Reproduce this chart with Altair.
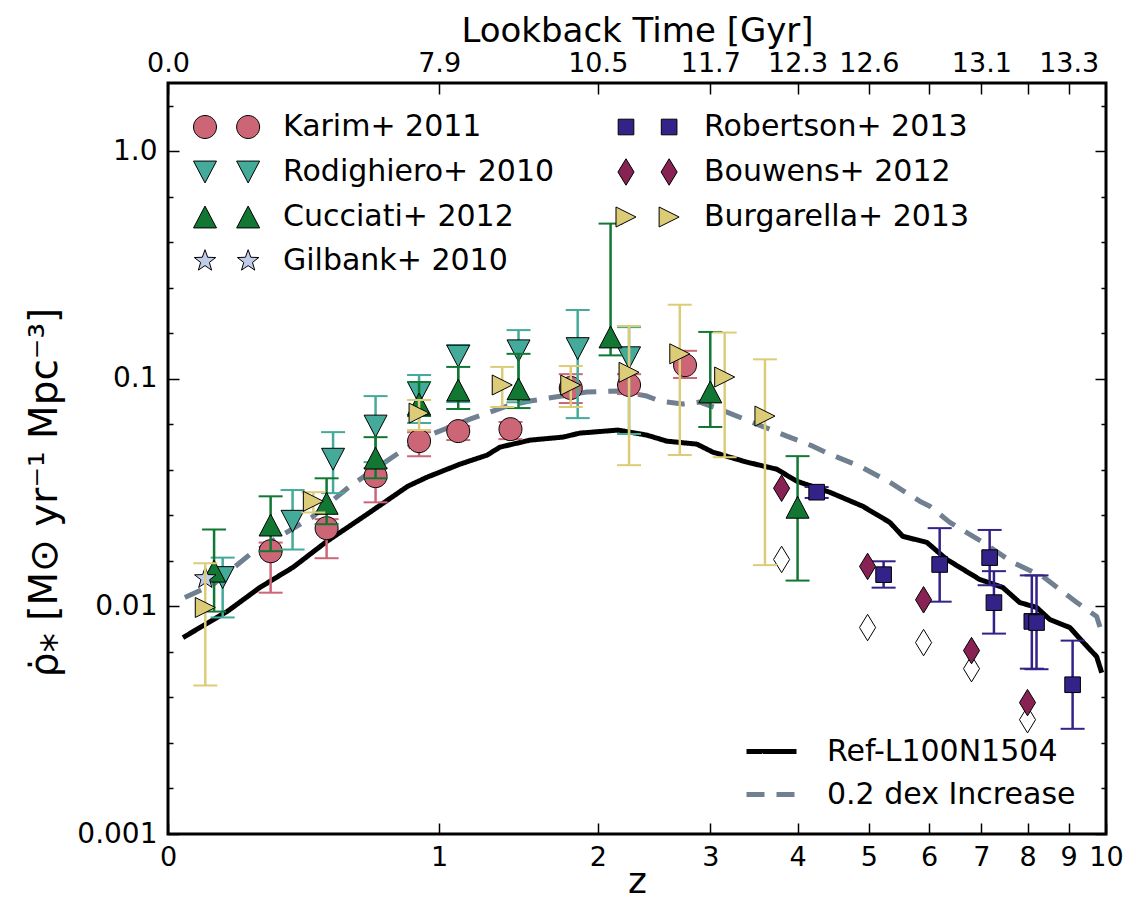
import math
import pandas as pd
import altair as alt

# ---------------- values ----------------
karim_z  = [0.3, 0.5, 0.7, 0.9, 1.1, 1.4, 1.8, 2.25, 2.75]
karim_v  = [0.0175, 0.0221, 0.0374, 0.0533, 0.0590, 0.0602, 0.0913, 0.0941, 0.115]
karim_hi = [0.0191, 0.0242, 0.0406, 0.0584, 0.0621, 0.0647, 0.105, 0.105, 0.133]
karim_lo = [0.0115, 0.0163, 0.0287, 0.0458, 0.0539, 0.0544, 0.0784, 0.0859, 0.101]

rodi_z  = [0.15, 0.375, 0.525, 0.7, 0.9, 1.1, 1.45, 1.85, 2.25]
rodi_v  = [0.0134, 0.0237, 0.0444, 0.0621, 0.0868, 0.126, 0.133, 0.136, 0.124]
rodi_hi = [0.0164, 0.0325, 0.0584, 0.0841, 0.104, 0.141, 0.164, 0.201, 0.169]
rodi_lo = [0.00895, 0.0178, 0.0315, 0.0431, 0.064, 0.0792, 0.079, 0.0673, 0.0573]

cucc_z  = [0.125, 0.3, 0.5, 0.7, 0.9, 1.1, 1.45, 2.1, 3.0, 4.0]
cucc_v  = [0.0143, 0.0228, 0.0284, 0.0449, 0.0776, 0.0894, 0.0904, 0.153, 0.0877, 0.0273]
cucc_hi = [0.0218, 0.0305, 0.0366, 0.0555, 0.097, 0.113, 0.129, 0.482, 0.161, 0.0458]
cucc_lo = [0.0095, 0.0175, 0.0230, 0.0366, 0.0687, 0.0738, 0.0745, 0.127, 0.0615, 0.0130]

gil_z = [0.1]
gil_v = [0.0133]

rob_z  = [4.25, 5.23, 6.19, 7.17, 7.26, 8.10, 8.21, 9.10]
rob_v  = [0.0318, 0.0138, 0.0153, 0.0164, 0.0104, 0.0086, 0.0085, 0.00453]
rob_hi = [0.0335, 0.0158, 0.0221, 0.0217, 0.0143, 0.0137, 0.0137, 0.00708]
rob_lo = [0.0300, 0.0121, 0.0105, 0.0124, 0.0076, 0.00533, 0.0053, 0.0029]

bouw_z      = [3.8, 4.98, 5.9, 6.8, 8.0]
bouw_v      = [0.0331, 0.0150, 0.0107, 0.0064, 0.00378]
bouw_open_v = [0.0161, 0.00808, 0.00694, 0.00533, 0.00318]

burg_z  = [0.1, 0.45, 0.9, 1.35, 1.8, 2.25, 2.7, 3.15, 3.6]
burg_v  = [0.0099, 0.0290, 0.0708, 0.0941, 0.0940, 0.107, 0.129, 0.102, 0.0687]
burg_hi = [0.0155, 0.0318, 0.0808, 0.113, 0.114, 0.171, 0.212, 0.160, 0.122]
burg_lo = [0.00449, 0.0259, 0.0596, 0.0753, 0.0753, 0.0418, 0.0463, 0.0453, 0.0152]

ref_z = [0.039, 0.163, 0.265, 0.376, 0.501, 0.663, 0.846, 0.939, 1.109, 1.26, 1.336,
         1.522, 1.744, 1.866, 2.159, 2.401, 2.579, 2.865, 3.026, 3.391, 3.742, 3.99,
         4.429, 4.906, 5.329, 5.543, 5.958, 6.32, 6.964, 7.448, 7.823, 8.215, 8.526,
         9.03, 9.36, 9.74, 9.88]
ref_v = [0.00730, 0.00950, 0.01213, 0.01485, 0.01933, 0.02542, 0.03378, 0.03701,
         0.04222, 0.04625, 0.05016, 0.05385, 0.05552, 0.05783, 0.05962, 0.05667,
         0.05331, 0.05172, 0.04770, 0.04310, 0.04013, 0.03553, 0.03178, 0.02758,
         0.02344, 0.02034, 0.01914, 0.01611, 0.01315, 0.01213, 0.01041, 0.00990,
         0.00877, 0.00808, 0.00701, 0.00602, 0.00512]

dex_z = [0.044, 0.122, 0.233, 0.342, 0.445, 0.592, 0.809, 0.939, 1.164, 1.378, 1.522,
         1.917, 2.176, 2.401, 2.517, 2.729, 2.895, 3.173, 3.505, 3.864, 4.199, 4.429,
         4.862, 5.329, 5.833, 6.011, 6.378, 7.03, 7.665, 8.357, 9.21, 9.74, 9.88]
dex_v = [0.01095, 0.01250, 0.01694, 0.02075, 0.02467, 0.03378, 0.04770, 0.05609,
         0.06663, 0.07606, 0.08000, 0.08764, 0.08855, 0.08415, 0.0800, 0.07759,
         0.07918, 0.07155, 0.06337, 0.05609, 0.05068, 0.04672, 0.04137, 0.03517,
         0.02902, 0.02758, 0.02344, 0.01914, 0.01562, 0.01356, 0.01041, 0.00903,
         0.00768]

models = ["Ref-L100N1504", "0.2 dex Increase"]

# axis ticks / labels
bottom_ticks = [0, 1, 2, 3, 4, 5, 6, 7, 8, 9, 10]
top_ticks = [0, 1, 2, 3, 4, 5, 6, 7, 8, 9]
top_labels = ["0.0", "7.9", "10.5", "11.7", "12.3", "12.6", "", "13.1", "", "13.3"]
y_major = [0.001, 0.01, 0.1, 1.0]
y_major_labels = ["0.001", "0.01", "0.1", "1.0"]
y_minor_steps = [0.2, 0.4, 0.6, 0.8]

# ---------------- styles ----------------
FONT = "DejaVu Sans"
MSIZE = 529          # unit of marker paths = sqrt(MSIZE)/2 px
PAIR_DX = 3.75       # spacing of the two legend markers (units)


def poly_path(pts, dx=0.0):
    return "M" + " L".join(f"{x + dx:.3f},{y:.3f}" for x, y in pts) + " Z"


def circle_path(dx=0.0):
    return (f"M{-1 + dx:.3f},0 A1,1 0 1,0 {1 + dx:.3f},0 "
            f"A1,1 0 1,0 {-1 + dx:.3f},0 Z")


def star_pts(ro=0.98, ri=0.4):
    pts = []
    for k in range(10):
        r = ro if k % 2 == 0 else ri
        a = math.radians(-90 + 36 * k)
        pts.append((r * math.cos(a), r * math.sin(a)))
    return pts


SHAPES = {
    "circle": lambda dx: circle_path(dx),
    "tri_down": lambda dx: poly_path([(-1, -0.95), (1, -0.95), (0, 0.95)], dx),
    "tri_up": lambda dx: poly_path([(0, -0.95), (1, 0.95), (-1, 0.95)], dx),
    "star": lambda dx: poly_path(star_pts(), dx),
    "square": lambda dx: poly_path([(-0.68, -0.68), (0.68, -0.68), (0.68, 0.68), (-0.68, 0.68)], dx),
    "thin_diamond": lambda dx: poly_path([(0, -1.15), (0.7, 0), (0, 1.15), (-0.7, 0)], dx),
    "tri_right": lambda dx: poly_path([(-0.87, -0.87), (0.87, 0), (-0.87, 0.87)], dx),
}


def pair(shape):
    return SHAPES[shape](0.0) + " " + SHAPES[shape](PAIR_DX)


def frame(name, z, v, lo=None, hi=None):
    d = {"source": name, "zp1": [1 + a for a in z], "v": v}
    if lo is not None:
        d["lo"] = lo
        d["hi"] = hi
    return pd.DataFrame(d)


series = [
    dict(name="Karim+ 2011", df=frame("Karim+ 2011", karim_z, karim_v, karim_lo, karim_hi),
         shape="circle", fill="#CC6677"),
    dict(name="Rodighiero+ 2010", df=frame("Rodighiero+ 2010", rodi_z, rodi_v, rodi_lo, rodi_hi),
         shape="tri_down", fill="#44AA99"),
    dict(name="Cucciati+ 2012", df=frame("Cucciati+ 2012", cucc_z, cucc_v, cucc_lo, cucc_hi),
         shape="tri_up", fill="#117733"),
    dict(name="Gilbank+ 2010", df=frame("Gilbank+ 2010", gil_z, gil_v),
         shape="star", fill="#BFCDEB"),
    dict(name="Robertson+ 2013", df=frame("Robertson+ 2013", rob_z, rob_v, rob_lo, rob_hi),
         shape="square", fill="#332288"),
    dict(name="Bouwens+ 2012 (uncorrected)", df=frame("Bouwens+ 2012", bouw_z, bouw_open_v),
         shape="thin_diamond", fill="white"),
    dict(name="Bouwens+ 2012", df=frame("Bouwens+ 2012", bouw_z, bouw_v),
         shape="thin_diamond", fill="#882255"),
    dict(name="Burgarella+ 2013", df=frame("Burgarella+ 2013", burg_z, burg_v, burg_lo, burg_hi),
         shape="tri_right", fill="#DDCC77"),
]

# legend order (Vega fills the two columns top to bottom)
legend_order = ["Karim+ 2011", "Rodighiero+ 2010", "Cucciati+ 2012", "Gilbank+ 2010",
                "Robertson+ 2013", "Bouwens+ 2012", "Burgarella+ 2013"]
by_name = {s["name"]: s for s in series}
legend_fills = [by_name[n]["fill"] for n in legend_order]
legend_paths = [pair(by_name[n]["shape"]) for n in legend_order]

# ---------------- scales & axes ----------------
xscale = alt.Scale(type="log", domain=[1, 11], nice=False)
yscale = alt.Scale(type="log", domain=[0.001, 2.0], nice=False)

y_ticks = []
for m in y_major:
    y_ticks.append(m)
    if m < 1.0:
        for s in y_minor_steps:
            y_ticks.append(round(m * 10 ** s, 8))
y_ticks.append(round(10 ** 0.2, 8))

major_test = "abs(log(datum.value)/LN10 - round(log(datum.value)/LN10)) < 0.01"
y_tick_size = {"condition": {"test": major_test, "value": -11}, "value": -5}
y_label_expr = " : ".join(
    f"abs(datum.value - {v}) < {v * 1e-6} ? '{lab}'" for v, lab in zip(y_major, y_major_labels)
) + " : ''"
top_label_expr = " : ".join(
    f"datum.value == {1 + z} ? '{lab}'" for z, lab in zip(top_ticks, top_labels)
) + " : ''"

common_axis = dict(domain=False, grid=False, labelOverlap=False, labelFlush=False,
                   labelBound=False)

bottom_axis = alt.Axis(orient="bottom", values=[1 + z for z in bottom_ticks],
                       labelExpr="format(datum.value - 1, 'd')",
                       tickSize={"expr": "-11"}, labelPadding=21,
                       title="z", titlePadding=-6, titleFontSize=36, **common_axis)
top_axis = alt.Axis(orient="top", values=[1 + z for z in top_ticks],
                    labelExpr=top_label_expr, tickSize={"expr": "-11"}, labelPadding=17,
                    title="Lookback Time [Gyr]", titlePadding=1, titleFontSize=34,
                    **common_axis)
left_axis = alt.Axis(orient="left", values=y_ticks, labelExpr=y_label_expr,
                     tickSize=y_tick_size, labelPadding=22, labelFontSize=28,
                     title="ρ̇⁎  [M⊙ yr⁻¹   Mpc⁻³]", titlePadding=12, titleFontSize=39,
                     titleY=409, **common_axis)
right_axis = alt.Axis(orient="right", values=y_ticks, labels=False,
                      tickSize=y_tick_size, title=None, **common_axis)

# ---------------- layers ----------------
layers = []

lines_df = pd.concat([
    pd.DataFrame({"zp1": [1 + z for z in ref_z], "v": ref_v, "model": models[0]}),
    pd.DataFrame({"zp1": [1 + z for z in dex_z], "v": dex_v, "model": models[1]}),
])
line_legend = alt.Legend(orient="none", legendX=576, legendY=641, title=None,
                         symbolSize=2500, symbolStrokeWidth=5, symbolType="stroke",
                         labelFontSize=30, labelFont=FONT, labelOffset=28, labelLimit=500,
                         rowPadding=-9, padding=0)
layers.append(
    alt.Chart(lines_df).mark_line(strokeWidth=5, strokeJoin="round").encode(
        x=alt.X("zp1:Q", scale=xscale, axis=top_axis),
        y=alt.Y("v:Q", scale=yscale, axis=right_axis),
        stroke=alt.Stroke("model:N", scale=alt.Scale(domain=models, range=["black", "#708090"]),
                          legend=line_legend),
        strokeDash=alt.StrokeDash("model:N",
                                  scale=alt.Scale(domain=models, range=[[1, 0], [18, 12]]),
                                  legend=line_legend),
    )
)

first = True
for s in series:
    df = s["df"]
    if "lo" in df.columns:
        xa = bottom_axis if first else None
        ya = left_axis if first else None
        first = False
        layers.append(
            alt.Chart(df).mark_rule(color=s["fill"], strokeWidth=2.5).encode(
                x=alt.X("zp1:Q", scale=xscale, axis=xa),
                y=alt.Y("lo:Q", scale=yscale, axis=ya),
                y2="hi:Q",
            )
        )
        for col in ["lo", "hi"]:
            layers.append(
                alt.Chart(df).mark_tick(color=s["fill"], orient="horizontal", size=24,
                                        thickness=2, opacity=1).encode(
                    x=alt.X("zp1:Q", scale=xscale, axis=None),
                    y=alt.Y(f"{col}:Q", scale=yscale, axis=None),
                )
            )
    layers.append(
        alt.Chart(df).mark_point(shape=SHAPES[s["shape"]](0.0), filled=True,
                                 size=MSIZE, opacity=1).encode(
            x=alt.X("zp1:Q", scale=xscale, axis=None),
            y=alt.Y("v:Q", scale=yscale, axis=None),
            fill=alt.value(s["fill"]),
            stroke=alt.value("black"),
            strokeWidth=alt.value(1),
        )
    )

marker_legend = alt.Legend(orient="none", legendX=22, legendY=29, columns=2, title=None,
                           symbolSize=MSIZE, symbolStrokeWidth=1,
                           symbolOpacity=1, labelFontSize=30, labelFont=FONT, labelOffset=63,
                           labelLimit=500, rowPadding=14, columnPadding=56, padding=0)
layers.append(
    alt.Chart(series[0]["df"]).transform_filter("false").mark_point(
        filled=True, size=MSIZE, opacity=1).encode(
        x=alt.X("zp1:Q", scale=xscale, axis=None),
        y=alt.Y("v:Q", scale=yscale, axis=None),
        fill=alt.Fill("source:N", scale=alt.Scale(domain=legend_order, range=legend_fills),
                      legend=marker_legend),
        shape=alt.Shape("source:N", scale=alt.Scale(domain=legend_order, range=legend_paths),
                        legend=marker_legend),
        stroke=alt.value("black"),
        strokeWidth=alt.value(1),
    )
)

chart = alt.layer(*layers).resolve_axis(x="independent", y="independent").properties(
    width=938, height=751,
    padding={"left": 160, "top": 75, "right": 23, "bottom": 69},
    autosize=alt.AutoSizeParams(type="none"),
    background="white",
).configure_view(stroke="black", strokeWidth=3).configure_axis(
    tickColor="black", tickWidth=1.5, labelColor="black", titleColor="black",
    labelFont=FONT, titleFont=FONT, titleFontWeight="normal", labelFontSize=27,
).configure_legend(labelColor="black")

chart.save("out.html", embed_options={"renderer": "svg", "actions": False})
